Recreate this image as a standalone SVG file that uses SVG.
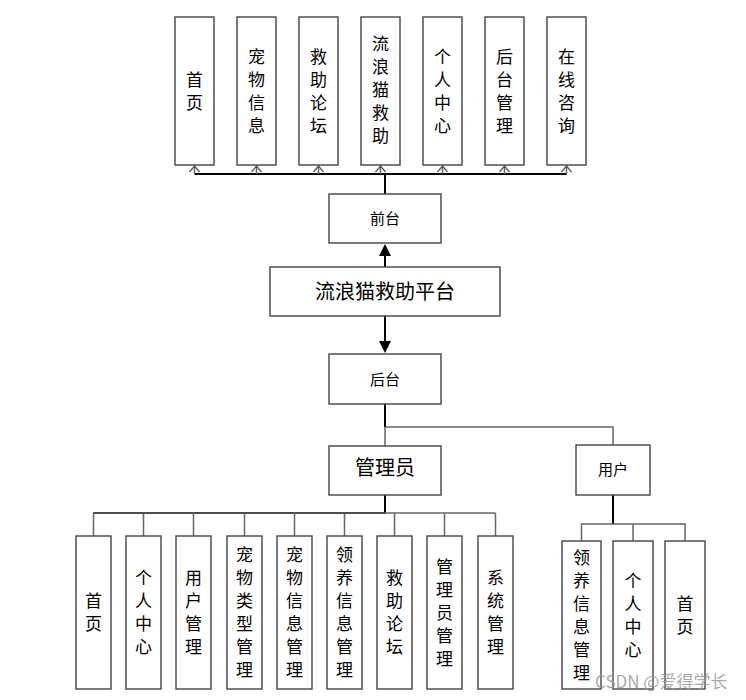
<svg xmlns="http://www.w3.org/2000/svg" width="746" height="700" viewBox="0 0 746 700">
<defs>
<style>
.box{fill:#fff;stroke:#444;stroke-width:1.4}
.t{font-family:"Noto Sans CJK SC","Noto Sans",sans-serif;fill:#000;text-anchor:middle}
.v{font-size:17px}
.ln{fill:none;stroke:#666;stroke-width:1.5}
.tk{fill:none;stroke:#000;stroke-width:2}
.ah{fill:none;stroke:#555;stroke-width:1.2}
</style>
</defs>
<rect width="746" height="700" fill="#fff"/>

<g id="connectors">
<!-- top tree -->
<path class="tk" d="M385,194 V174"/>
<path class="tk" d="M194.5,174 H566.5"/>
<path class="ln" d="M194.5,174 V166 M256.5,174 V166 M318.5,174 V166 M380.5,174 V166 M442.5,174 V166 M504.5,174 V166 M566.5,174 V166"/>
<path class="ah" d="M189.5,172 L194.5,166 L199.5,172 M251.5,172 L256.5,166 L261.5,172 M313.5,172 L318.5,166 L323.5,172 M375.5,172 L380.5,166 L385.5,172 M437.5,172 L442.5,166 L447.5,172 M499.5,172 L504.5,166 L509.5,172 M561.5,172 L566.5,166 L571.5,172"/>
<!-- platform arrows -->
<path class="tk" d="M385,267 V250"/>
<path d="M379,256 L391,256 L385,244 Z" fill="#000"/>
<path class="tk" d="M385,316 V345"/>
<path d="M379,341 L391,341 L385,353 Z" fill="#000"/>
<!-- backend split -->
<path class="tk" d="M385,404 V427"/>
<path class="ln" d="M385,427 V446"/>
<path class="ln" d="M385,427 H613 V445"/>
<!-- admin children -->
<path class="tk" d="M385,495 V513 H93.5"/>
<path class="ln" d="M93.5,513 H495.5"/>
<path class="ln" d="M93.5,513 V536 M143.5,513 V536 M193.5,513 V536 M244.5,513 V536 M294.5,513 V536 M344.5,513 V536 M394.5,513 V536 M444.5,513 V536 M495.5,513 V536"/>
<!-- user children -->
<path class="tk" d="M613,495 V524"/>
<path class="ln" d="M581.5,541 V524 H685 V541 M633,524 V541"/>
</g>

<g id="n_shouye"><rect class="box" x="175" y="17" width="39" height="148"/><text class="t v" x="194.5" y="85.5">首<tspan x="194.5" dy="23">页</tspan></text></g>
<g id="n_chongwuxinxi"><rect class="box" x="237" y="17" width="39" height="148"/><text class="t v" x="256.5" y="62.5">宠<tspan x="256.5" dy="23">物</tspan><tspan x="256.5" dy="23">信</tspan><tspan x="256.5" dy="23">息</tspan></text></g>
<g id="n_jiuzhuluntan"><rect class="box" x="299" y="17" width="39" height="148"/><text class="t v" x="318.5" y="62.5">救<tspan x="318.5" dy="23">助</tspan><tspan x="318.5" dy="23">论</tspan><tspan x="318.5" dy="23">坛</tspan></text></g>
<g id="n_liulangmaojiuzhu"><rect class="box" x="361" y="17" width="39" height="148"/><text class="t v" x="380.5" y="50">流<tspan x="380.5" dy="23">浪</tspan><tspan x="380.5" dy="23">猫</tspan><tspan x="380.5" dy="23">救</tspan><tspan x="380.5" dy="23">助</tspan></text></g>
<g id="n_gerenzhongxin"><rect class="box" x="423" y="17" width="39" height="148"/><text class="t v" x="442.5" y="62.5">个<tspan x="442.5" dy="23">人</tspan><tspan x="442.5" dy="23">中</tspan><tspan x="442.5" dy="23">心</tspan></text></g>
<g id="n_houtaiguanli"><rect class="box" x="485" y="17" width="39" height="148"/><text class="t v" x="504.5" y="62.5">后<tspan x="504.5" dy="23">台</tspan><tspan x="504.5" dy="23">管</tspan><tspan x="504.5" dy="23">理</tspan></text></g>
<g id="n_zaixianzixun"><rect class="box" x="547" y="17" width="39" height="148"/><text class="t v" x="566.5" y="62.5">在<tspan x="566.5" dy="23">线</tspan><tspan x="566.5" dy="23">咨</tspan><tspan x="566.5" dy="23">询</tspan></text></g>

<g id="n_qiantai"><rect class="box" x="329" y="194" width="112" height="49"/><text class="t" x="385" y="224" font-size="15">前台</text></g>
<g id="n_platform"><rect class="box" x="270" y="267" width="230" height="49"/><text class="t" x="385" y="299" font-size="20">流浪猫救助平台</text></g>
<g id="n_houtai"><rect class="box" x="329" y="354" width="112" height="50"/><text class="t" x="385" y="385" font-size="15">后台</text></g>
<g id="n_admin"><rect class="box" x="329" y="446" width="112" height="49"/><text class="t" x="385" y="475" font-size="20">管理员</text></g>
<g id="n_user"><rect class="box" x="576" y="445" width="74" height="50"/><text class="t" x="613" y="475" font-size="15">用户</text></g>

<g id="a_shouye"><rect class="box" x="76" y="536" width="35" height="153"/><text class="t v" x="93.5" y="607">首<tspan x="93.5" dy="23">页</tspan></text></g>
<g id="a_geren"><rect class="box" x="126" y="536" width="35" height="153"/><text class="t v" x="143.5" y="584">个<tspan x="143.5" dy="23">人</tspan><tspan x="143.5" dy="23">中</tspan><tspan x="143.5" dy="23">心</tspan></text></g>
<g id="a_yonghu"><rect class="box" x="176" y="536" width="35" height="153"/><text class="t v" x="193.5" y="584">用<tspan x="193.5" dy="23">户</tspan><tspan x="193.5" dy="23">管</tspan><tspan x="193.5" dy="23">理</tspan></text></g>
<g id="a_leixing"><rect class="box" x="227" y="536" width="35" height="153"/><text class="t v" x="244.5" y="561">宠<tspan x="244.5" dy="23">物</tspan><tspan x="244.5" dy="23">类</tspan><tspan x="244.5" dy="23">型</tspan><tspan x="244.5" dy="23">管</tspan><tspan x="244.5" dy="23">理</tspan></text></g>
<g id="a_chongwu"><rect class="box" x="277" y="536" width="35" height="153"/><text class="t v" x="294.5" y="561">宠<tspan x="294.5" dy="23">物</tspan><tspan x="294.5" dy="23">信</tspan><tspan x="294.5" dy="23">息</tspan><tspan x="294.5" dy="23">管</tspan><tspan x="294.5" dy="23">理</tspan></text></g>
<g id="a_lingyang"><rect class="box" x="327" y="536" width="35" height="153"/><text class="t v" x="344.5" y="561">领<tspan x="344.5" dy="23">养</tspan><tspan x="344.5" dy="23">信</tspan><tspan x="344.5" dy="23">息</tspan><tspan x="344.5" dy="23">管</tspan><tspan x="344.5" dy="23">理</tspan></text></g>
<g id="a_luntan"><rect class="box" x="377" y="536" width="35" height="153"/><text class="t v" x="394.5" y="584">救<tspan x="394.5" dy="23">助</tspan><tspan x="394.5" dy="23">论</tspan><tspan x="394.5" dy="23">坛</tspan></text></g>
<g id="a_guanliyuan"><rect class="box" x="427" y="536" width="35" height="153"/><text class="t v" x="444.5" y="572.5">管<tspan x="444.5" dy="23">理</tspan><tspan x="444.5" dy="23">员</tspan><tspan x="444.5" dy="23">管</tspan><tspan x="444.5" dy="23">理</tspan></text></g>
<g id="a_xitong"><rect class="box" x="478" y="536" width="35" height="153"/><text class="t v" x="495.5" y="584">系<tspan x="495.5" dy="23">统</tspan><tspan x="495.5" dy="23">管</tspan><tspan x="495.5" dy="23">理</tspan></text></g>

<g id="u_lingyang"><rect class="box" x="562" y="541" width="39" height="148"/><text class="t v" x="581.5" y="563.5">领<tspan x="581.5" dy="23">养</tspan><tspan x="581.5" dy="23">信</tspan><tspan x="581.5" dy="23">息</tspan><tspan x="581.5" dy="23">管</tspan><tspan x="581.5" dy="23">理</tspan></text></g>
<g id="u_geren"><rect class="box" x="613" y="541" width="40" height="148"/><text class="t v" x="633" y="586.5">个<tspan x="633" dy="23">人</tspan><tspan x="633" dy="23">中</tspan><tspan x="633" dy="23">心</tspan></text></g>
<g id="u_shouye"><rect class="box" x="665" y="541" width="40" height="148"/><text class="t v" x="685" y="609.5">首<tspan x="685" dy="23">页</tspan></text></g>

<text x="595" y="688" font-family="Noto Sans CJK SC,sans-serif" font-size="17" fill="#999" fill-opacity="0.85">CSDN @爱得学长</text>
</svg>
